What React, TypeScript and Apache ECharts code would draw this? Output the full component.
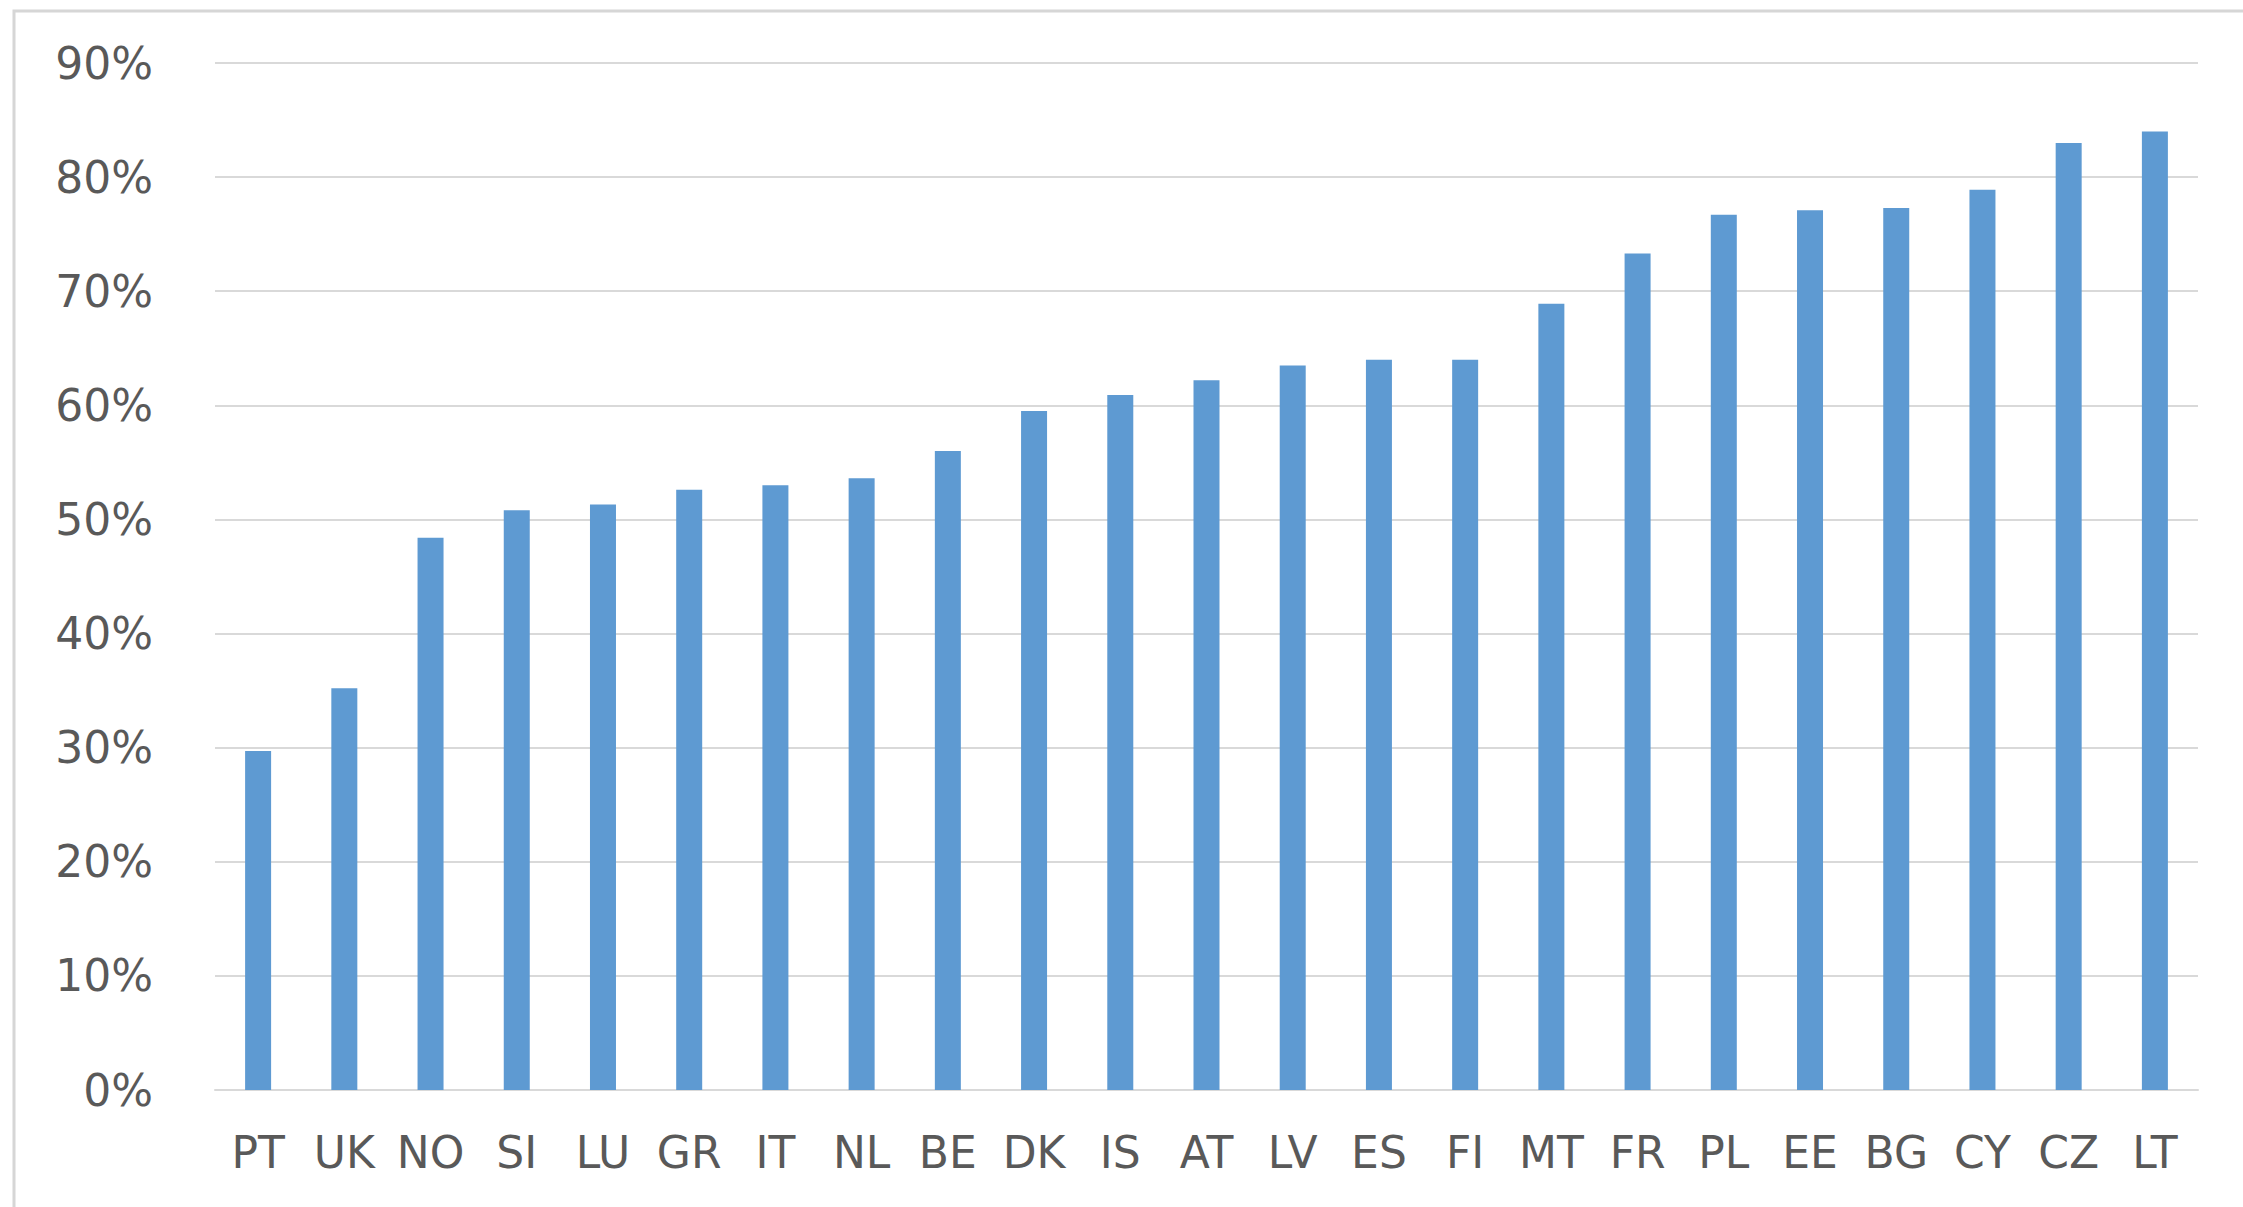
import React, { useEffect, useRef } from "react";
import * as echarts from "echarts";

// Share per country, in percent, sorted ascending
const countries = [
  "PT", "UK", "NO", "SI", "LU", "GR", "IT", "NL", "BE", "DK", "IS", "AT",
  "LV", "ES", "FI", "MT", "FR", "PL", "EE", "BG", "CY", "CZ", "LT",
];
const shares = [
  29.7, 35.2, 48.4, 50.8, 51.3, 52.6, 53.0, 53.6, 56.0, 59.5, 60.9, 62.2,
  63.5, 64.0, 64.0, 68.9, 73.3, 76.7, 77.1, 77.3, 78.9, 83.0, 84.0,
];
const yMin = 0;
const yMax = 90;
const yStep = 10;

const TEXT = "#595959";
const GRID = "#D9D9D9";
const BAR = "#5E9AD2";
const FONT = "DejaVu Sans";

export default function App() {
  const ref = useRef<HTMLDivElement>(null);

  useEffect(() => {
    if (!ref.current) return;
    const chart = echarts.init(ref.current, undefined, { renderer: "svg" });
    chart.setOption({
      animation: false,
      backgroundColor: "#ffffff",
      textStyle: { fontFamily: FONT },
      grid: { left: 215, right: 45, top: 63, bottom: 117, containLabel: false },
      graphic: [
        {
          type: "rect",
          shape: { x: 14, y: 11, width: 2400, height: 1400 },
          style: { fill: "none", stroke: "#D6D6D6", lineWidth: 3 },
          silent: true,
        },
      ],
      xAxis: {
        type: "category",
        data: countries,
        axisLine: { show: true, lineStyle: { color: GRID, width: 2 } },
        axisTick: { show: false },
        axisLabel: {
          color: TEXT,
          fontSize: 44,
          fontFamily: FONT,
          margin: 40,
          interval: 0,
        },
      },
      yAxis: {
        type: "value",
        min: yMin,
        max: yMax,
        interval: yStep,
        axisLine: { show: false },
        axisTick: { show: false },
        splitLine: { lineStyle: { color: GRID, width: 2 } },
        axisLabel: {
          color: TEXT,
          fontSize: 44,
          fontFamily: FONT,
          margin: 62,
          formatter: "{value}%",
        },
      },
      series: [
        {
          type: "bar",
          data: shares,
          barWidth: 26,
          itemStyle: { color: BAR },
        },
      ],
    });
    return () => chart.dispose();
  }, []);

  return (
    <div
      ref={ref}
      style={{ position: "fixed", left: 0, top: 0, width: 2243, height: 1207 }}
    />
  );
}
